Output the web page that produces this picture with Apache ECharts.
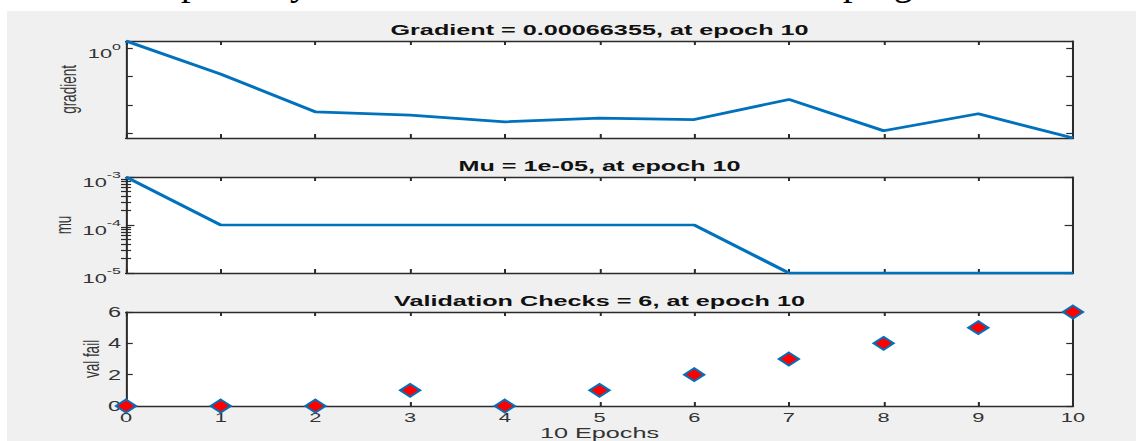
<!DOCTYPE html>
<html>
<head>
<meta charset="utf-8">
<script src="https://cdn.jsdelivr.net/npm/echarts@6/dist/echarts.min.js"></script>
<style>
  html, body { margin:0; padding:0; background:#fff; width:1136px; height:441px; overflow:hidden; }
  #bg { position:absolute; left:7px; top:11px; width:1129px; height:430px; background:#F0F0F0; }
  #doc { position:absolute; left:0; top:0; width:1136px; height:11px; overflow:hidden; }
  #doc span { position:absolute; top:-37px; font-family:"Liberation Serif", serif; font-size:38px; line-height:38px; color:#000; white-space:pre; }
  #c { position:absolute; left:0; top:0; width:676px; height:441px; transform:scaleX(1.68047); transform-origin:0 0; }
</style>
</head>
<body>
<div id="bg"></div>
<div id="doc"><span style="left:181px">p</span><span style="left:290px">y</span><span style="left:843px">prog</span></div>
<div id="c"></div>
<script>
// ---- data ----
const epochs = [0, 1, 2, 3, 4, 5, 6, 7, 8, 9, 10];
const gradientValues = [1.86, 0.124, 0.0056, 0.0043, 0.0025, 0.0034, 0.003, 0.0156, 0.0012, 0.0048, 0.00066355];
const muValues = [1e-3, 1e-4, 1e-4, 1e-4, 1e-4, 1e-4, 1e-4, 1e-5, 1e-5, 1e-5, 1e-5];
const valFailValues = [0, 0, 0, 1, 0, 1, 2, 3, 4, 5, 6];

const gradientTicks = [0.001, 0.01, 0.1, 1];
const gradientLabels = [1];
const muMajorTicks = [1e-5, 1e-4, 1e-3];
const muMinorTicks = [2e-5, 3e-5, 4e-5, 5e-5, 6e-5, 7e-5, 8e-5, 9e-5, 2e-4, 3e-4, 4e-4, 5e-4, 6e-4, 7e-4, 8e-4, 9e-4];
const valFailTicks = [0, 2, 4, 6];

const titles = ['Gradient = 0.00066355, at epoch 10', 'Mu = 1e-05, at epoch 10', 'Validation Checks = 6, at epoch 10'];
const yNames = ['gradient', 'mu', 'val fail'];
const xName = '10 Epochs';

// ---- style ----
const FONT = '"Liberation Sans", Arial, Helvetica, sans-serif';
const AX = '#2b2b2b';
const TXT = '#333333';
const BLUE = '#0072BD';
const W = 676;
const gridTops = [41, 177, 312];
const gridHeights = [97, 96, 96];
const gridLeft = 75, gridRight = 37.5;
const centerX = gridLeft + (W - gridLeft - gridRight) / 2;

function pow10Label(v) {
  const e = Math.round(Math.log10(v));
  return '{b|10}{s|' + e + '}';
}
const richExp = {
  b: { fontSize: 13, fontFamily: FONT, color: TXT, lineHeight: 19, verticalAlign: 'bottom' },
  s: { fontSize: 9.5, fontFamily: FONT, color: TXT, lineHeight: 9, verticalAlign: 'top' }
};

const grids = gridTops.map((t, i) => ({
  left: gridLeft, right: gridRight, top: t, height: gridHeights[i],
  show: true, backgroundColor: '#ffffff', borderWidth: 0
}));

const xAxes = [];
for (let i = 0; i < 3; i++) {
  ['bottom', 'top'].forEach(pos => {
    const isLabelled = (i === 2 && pos === 'bottom');
    xAxes.push({
      type: 'value', gridIndex: i, position: pos, min: 0, max: 10, interval: 1,
      axisLine: { show: true, onZero: false, lineStyle: { color: AX, width: 1.4 } },
      axisTick: { show: true, inside: true, length: 4, lineStyle: { color: AX, width: 1.2 } },
      axisLabel: { show: isLabelled, margin: 5, fontSize: 13, fontFamily: FONT, color: TXT,
                   showMinLabel: true, showMaxLabel: true },
      splitLine: { show: false },
      name: isLabelled ? xName : '',
      nameLocation: 'middle', nameGap: 19, nameMoveOverlap: false,
      nameTextStyle: { fontSize: 15, fontFamily: FONT, color: TXT }
    });
  });
}

function yAxisBase(gi, pos) {
  return {
    gridIndex: gi, position: pos,
    axisLine: { show: true, onZero: false, lineStyle: { color: AX, width: 1.2 } },
    splitLine: { show: false },
    nameLocation: 'middle', nameMoveOverlap: false,
    nameTextStyle: { fontSize: 13.5, fontFamily: FONT, color: TXT }
  };
}

const gMin = gradientValues[gradientValues.length - 1];
const gMax = gradientValues[0];
const tickStyle = { color: AX, width: 1.2 };

const yAxes = [
  // grid 0 : gradient
  Object.assign(yAxisBase(0, 'left'), {
    type: 'log', min: gMin, max: gMax,
    axisTick: { show: true, inside: true, length: 4, customValues: gradientTicks, lineStyle: tickStyle },
    axisLabel: { show: true, margin: 3, customValues: gradientLabels, formatter: pow10Label, rich: richExp, padding: [5, 0, 0, 0] },
    name: yNames[0], nameGap: 27.5
  }),
  Object.assign(yAxisBase(0, 'right'), {
    type: 'log', min: gMin, max: gMax,
    axisTick: { show: true, inside: true, length: 4, customValues: gradientTicks, lineStyle: tickStyle },
    axisLabel: { show: false }
  }),
  // grid 1 : mu
  Object.assign(yAxisBase(1, 'left'), {
    type: 'log', min: 1e-5, max: 1e-3,
    axisTick: { show: true, inside: true, length: 5, customValues: muMajorTicks, lineStyle: tickStyle },
    axisLabel: { show: true, margin: 3, customValues: muMajorTicks, formatter: pow10Label, rich: richExp, padding: [5, 0, 0, 0] },
    name: yNames[1], nameGap: 30.5
  }),
  Object.assign(yAxisBase(1, 'right'), {
    type: 'log', min: 1e-5, max: 1e-3,
    axisTick: { show: true, inside: true, length: 5, customValues: muMajorTicks, lineStyle: tickStyle },
    axisLabel: { show: false }
  }),
  Object.assign(yAxisBase(1, 'left'), {
    type: 'log', min: 1e-5, max: 1e-3, axisLine: { show: false },
    axisTick: { show: true, inside: true, length: 3, customValues: muMinorTicks, lineStyle: tickStyle },
    axisLabel: { show: false }
  }),
  Object.assign(yAxisBase(1, 'right'), {
    type: 'log', min: 1e-5, max: 1e-3, axisLine: { show: false },
    axisTick: { show: true, inside: true, length: 3, customValues: muMinorTicks, lineStyle: tickStyle },
    axisLabel: { show: false }
  }),
  // grid 2 : val fail
  Object.assign(yAxisBase(2, 'left'), {
    type: 'value', min: 0, max: 6, interval: 2,
    axisTick: { show: true, inside: true, length: 4, customValues: valFailTicks, lineStyle: tickStyle },
    axisLabel: { show: true, margin: 3, fontSize: 14, fontFamily: FONT, color: TXT },
    name: yNames[2], nameGap: 13.5
  }),
  Object.assign(yAxisBase(2, 'right'), {
    type: 'value', min: 0, max: 6, interval: 2,
    axisTick: { show: true, inside: true, length: 4, customValues: valFailTicks, lineStyle: tickStyle },
    axisLabel: { show: false }
  })
];

const pairs = arr => epochs.map((e, i) => [e, arr[i]]);

const option = {
  animation: false,
  backgroundColor: 'transparent',
  grid: grids,
  xAxis: xAxes,
  yAxis: yAxes,
  graphic: titles.map((t, i) => ({
    type: 'text', x: centerX, y: gridTops[i] - 11, z: 10,
    style: { text: t, align: 'center', verticalAlign: 'middle', fill: '#111',
             font: 'bold 15px ' + FONT }
  })),
  series: [
    { type: 'line', xAxisIndex: 0, yAxisIndex: 0, data: pairs(gradientValues), showSymbol: false,
      clip: false, lineStyle: { color: BLUE, width: 2.7 }, z: 5 },
    { type: 'line', xAxisIndex: 2, yAxisIndex: 2, data: pairs(muValues), showSymbol: false,
      clip: false, lineStyle: { color: BLUE, width: 2.7 }, z: 5 },
    { type: 'scatter', xAxisIndex: 4, yAxisIndex: 6, data: pairs(valFailValues), clip: false,
      symbol: 'diamond', symbolSize: [12, 13],
      itemStyle: { color: '#FF0000', borderColor: BLUE, borderWidth: 1.6, opacity: 1 }, z: 5 }
  ]
};

const chart = echarts.init(document.getElementById('c'), null, { renderer: 'svg' });
chart.setOption(option);
</script>
</body>
</html>
